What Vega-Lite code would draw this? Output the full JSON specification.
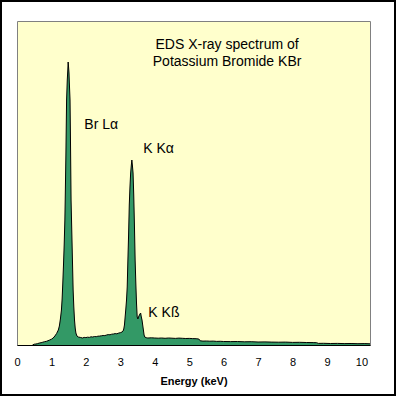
{
  "$schema": "https://vega.github.io/schema/vega-lite/v6.json",
  "autosize": {"type": "none"},
  "padding": {"left": 17, "top": 21, "right": 26, "bottom": 51},
  "width": 353,
  "height": 324,
  "background": "white",
  "view": {"fill": "#FFFFCC", "stroke": "#808080", "strokeWidth": 1},
  "config": {"font": "Liberation Sans", "axis": {"labelOverlap": false}, "axisX": {"labelOverlap": false}},
  "datasets": {
    "spectrum": [
      {"e":0.45,"c":0},{"e":0.5,"c":0.8},{"e":0.55,"c":1},{"e":0.6,"c":1.4},{"e":0.65,"c":2},{"e":0.7,"c":2.3},{"e":0.75,"c":2.8},{"e":0.8,"c":3.3},{"e":0.85,"c":3.6},{"e":0.9,"c":4.3},{"e":0.95,"c":5},{"e":1.0,"c":5.8},{"e":1.05,"c":7},{"e":1.1,"c":9},{"e":1.15,"c":11.5},{"e":1.2,"c":15},{"e":1.23,"c":19},{"e":1.26,"c":26},{"e":1.29,"c":35},{"e":1.31,"c":46},{"e":1.33,"c":62},{"e":1.35,"c":80},{"e":1.37,"c":100},{"e":1.39,"c":125},{"e":1.40,"c":145},{"e":1.42,"c":190},{"e":1.44,"c":245},{"e":1.46,"c":265},{"e":1.475,"c":275},{"e":1.485,"c":283},{"e":1.495,"c":279},{"e":1.51,"c":272},{"e":1.52,"c":262},{"e":1.54,"c":245},{"e":1.55,"c":215},{"e":1.56,"c":180},{"e":1.57,"c":145},{"e":1.59,"c":115},{"e":1.61,"c":85},{"e":1.63,"c":55},{"e":1.65,"c":38},{"e":1.67,"c":25},{"e":1.69,"c":17},{"e":1.71,"c":12},{"e":1.74,"c":9},{"e":1.78,"c":8},{"e":1.85,"c":7.5},{"e":1.9,"c":7},{"e":1.95,"c":7.6},{"e":2.0,"c":7.4},{"e":2.05,"c":7.8},{"e":2.1,"c":7.6},{"e":2.15,"c":8.2},{"e":2.2,"c":8},{"e":2.25,"c":8.5},{"e":2.3,"c":8.3},{"e":2.35,"c":8.8},{"e":2.4,"c":8.9},{"e":2.45,"c":9.2},{"e":2.5,"c":9.5},{"e":2.55,"c":9.4},{"e":2.6,"c":10},{"e":2.65,"c":10.4},{"e":2.7,"c":10.2},{"e":2.75,"c":10.8},{"e":2.8,"c":11},{"e":2.85,"c":11.4},{"e":2.9,"c":11.2},{"e":2.95,"c":11.9},{"e":3.0,"c":12.3},{"e":3.05,"c":13},{"e":3.08,"c":14},{"e":3.10,"c":16},{"e":3.12,"c":20},{"e":3.14,"c":28},{"e":3.16,"c":36},{"e":3.18,"c":45},{"e":3.20,"c":58},{"e":3.22,"c":85},{"e":3.24,"c":110},{"e":3.26,"c":140},{"e":3.28,"c":158},{"e":3.30,"c":172},{"e":3.32,"c":180},{"e":3.335,"c":185},{"e":3.35,"c":180},{"e":3.37,"c":172},{"e":3.39,"c":150},{"e":3.41,"c":120},{"e":3.43,"c":85},{"e":3.45,"c":62},{"e":3.47,"c":42},{"e":3.49,"c":28},{"e":3.51,"c":26},{"e":3.54,"c":29},{"e":3.57,"c":31},{"e":3.59,"c":32},{"e":3.61,"c":28},{"e":3.63,"c":25},{"e":3.65,"c":20},{"e":3.67,"c":15},{"e":3.69,"c":10},{"e":3.71,"c":8},{"e":3.75,"c":7.3},{"e":3.8,"c":7},{"e":3.9,"c":7.2},{"e":4.0,"c":7},{"e":4.1,"c":6.8},{"e":4.2,"c":7},{"e":4.3,"c":6.7},{"e":4.4,"c":7},{"e":4.5,"c":6.8},{"e":4.6,"c":6.6},{"e":4.7,"c":6.9},{"e":4.8,"c":6.7},{"e":4.9,"c":6.5},{"e":5.0,"c":6.6},{"e":5.1,"c":6.4},{"e":5.2,"c":6.3},{"e":5.28,"c":6},{"e":5.32,"c":4.2},{"e":5.4,"c":3.9},{"e":5.5,"c":4},{"e":5.6,"c":3.8},{"e":5.7,"c":3.9},{"e":5.8,"c":3.6},{"e":5.9,"c":3.7},{"e":6.0,"c":3.5},{"e":6.2,"c":3.4},{"e":6.4,"c":3.5},{"e":6.6,"c":3.2},{"e":6.8,"c":3.3},{"e":7.0,"c":3},{"e":7.2,"c":3.1},{"e":7.4,"c":2.9},{"e":7.6,"c":2.8},{"e":7.8,"c":2.9},{"e":8.0,"c":2.6},{"e":8.2,"c":2.7},{"e":8.4,"c":2.5},{"e":8.6,"c":2.4},{"e":8.7,"c":2.3},{"e":8.75,"c":1.6},{"e":8.9,"c":1.7},{"e":9.1,"c":1.5},{"e":9.3,"c":1.6},{"e":9.5,"c":1.4},{"e":9.7,"c":1.5},{"e":9.9,"c":1.3},{"e":10.1,"c":1.4},{"e":10.25,"c":1.2}
    ],
    "titleLines": [
      {"text": "EDS X-ray spectrum of", "e": 6.1, "c": 295.7},
      {"text": "Potassium Bromide KBr", "e": 6.1, "c": 279}
    ],
    "peaks": [
      {"text": "Br Lα", "e": 1.954, "c": 215.7},
      {"text": "K Kα", "e": 3.667, "c": 192.3},
      {"text": "K Kß", "e": 3.813, "c": 28.3}
    ]
  },
  "layer": [
    {
      "encoding": {
        "x": {"field": "e", "type": "quantitative", "scale": {"domain": [0, 10.25], "nice": false, "zero": false},
          "axis": {"values": [0,1,2,3,4,5,6,7,8,9,10], "ticks": false, "grid": false, "domain": true, "domainColor": "black", "domainWidth": 1,
                   "labelOverlap": false, "labelFlush": false,
                   "labelFont": "Liberation Sans", "labelFontSize": 11, "labelColor": "black", "labelBaseline": "alphabetic", "labelPadding": 20,
                   "title": "Energy (keV)", "titleFont": "Liberation Sans", "titleFontSize": 11, "titleFontWeight": "bold", "titleColor": "black",
                   "titleBaseline": "alphabetic", "titleY": 39}},
        "y": {"field": "c", "type": "quantitative", "scale": {"domain": [0, 324], "nice": false}, "axis": null}
      },
      "layer": [
        {
          "data": {"name": "spectrum"},
          "mark": {"type": "area", "color": "#339966", "opacity": 1, "interpolate": "linear", "line": {"color": "black", "strokeWidth": 1}},
          "encoding": {
            "y2": {"datum": 0}
          }
        },
        {
          "data": {"name": "titleLines"},
          "mark": {"type": "text", "align": "center", "baseline": "alphabetic", "fontSize": 14, "font": "Liberation Sans", "color": "black"},
          "encoding": {
            "text": {"field": "text"}
          }
        },
        {
          "data": {"name": "peaks"},
          "mark": {"type": "text", "align": "left", "baseline": "alphabetic", "fontSize": 14, "font": "Liberation Sans", "color": "black"},
          "encoding": {
            "text": {"field": "text"}
          }
        }
      ]
    },
    {
      "data": {"values": [{"frame": 1}]},
      "mark": {"type": "rect", "fill": null, "fillOpacity": 0, "stroke": "black", "strokeWidth": 2, "clip": false},
      "encoding": {
        "x": {"datum": -0.4646, "type": "quantitative",
          "axis": {"values": [0,1,2,3,4,5,6,7,8,9,10], "ticks": false, "grid": false, "domain": true, "domainColor": "black", "domainWidth": 1,
                   "labelOverlap": false, "labelFlush": false,
                   "labelFont": "Liberation Sans", "labelFontSize": 11, "labelColor": "black", "labelBaseline": "alphabetic", "labelPadding": 20,
                   "title": "Energy (keV)", "titleFont": "Liberation Sans", "titleFontSize": 11, "titleFontWeight": "bold", "titleColor": "black",
                   "titleBaseline": "alphabetic", "titleY": 39}},
        "x2": {"datum": 10.976},
        "y": {"datum": 344, "type": "quantitative"},
        "y2": {"datum": -50}
      }
    }
  ]
}
